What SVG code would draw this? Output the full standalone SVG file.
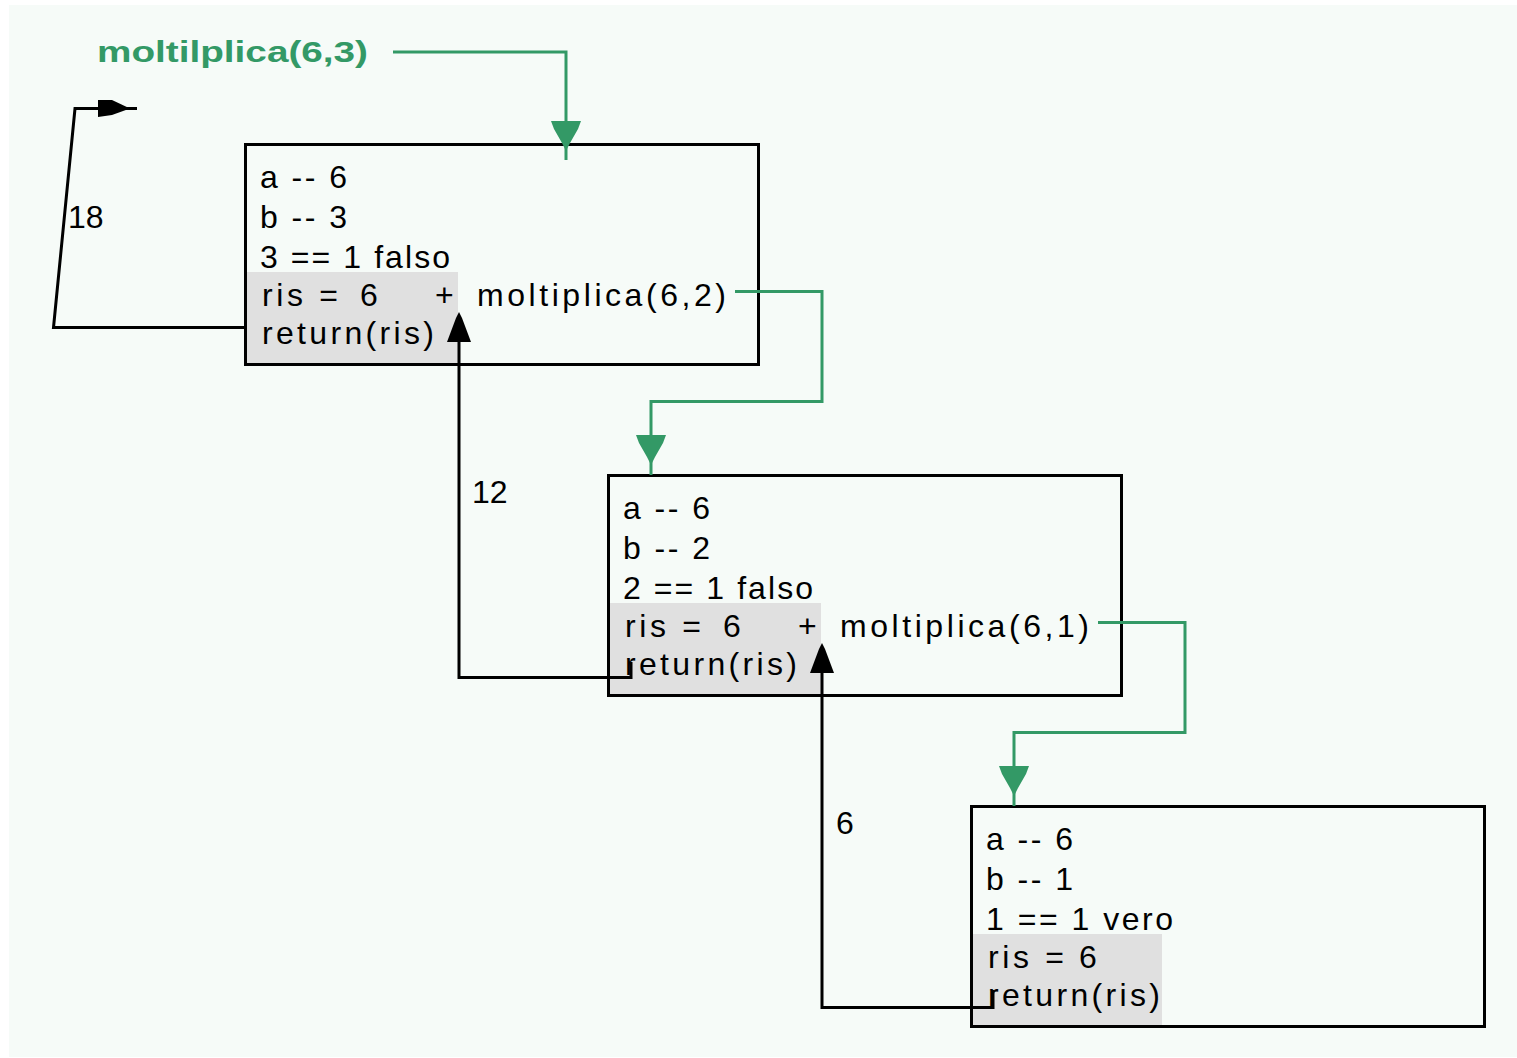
<svg xmlns="http://www.w3.org/2000/svg" xmlns:xlink="http://www.w3.org/1999/xlink" width="1517" height="1058" viewBox="0 0 1517 1058">
<style>
.t{font-family:"Liberation Sans","DejaVu Sans",sans-serif;font-size:32px;fill:#000}
.g{font-family:"Liberation Sans","DejaVu Sans",sans-serif;font-size:30px;font-weight:bold;fill:#339966}
.box{fill:none;stroke:#000;stroke-width:3}
.hl{fill:#e0e0e0}
.gl{fill:none;stroke:#339966;stroke-width:3}
.bl{fill:none;stroke:#000;stroke-width:3}
</style>
<defs>
<polygon id="ga" points="-15,-30 15,-30 12,-22 4,-8 0,0 -4,-8 -12,-22" fill="#339966"/>
<polygon id="ba" points="0,0 3,6 12,30 -12,30 -3,6" fill="#000"/>
</defs>
<rect x="9" y="5" width="1508" height="1052" fill="#f6fbf8"/>
<text class="g" x="97" y="62" textLength="271" lengthAdjust="spacingAndGlyphs">moltilplica(6,3)</text>

<g id="node1">
<rect class="hl" x="247" y="272" width="211" height="91"/>
<rect class="box" x="245.5" y="144.5" width="513" height="220"/>
<text class="t" x="260" y="188" textLength="87">a -- 6</text>
<text class="t" x="260" y="228" textLength="87">b -- 3</text>
<text class="t" x="260" y="268" textLength="190">3 == 1 falso</text>
<text class="t" x="262" y="306" textLength="76">ris =</text>
<text class="t" x="360" y="306">6</text>
<text class="t" x="435" y="306">+</text>
<text class="t" x="477" y="306" textLength="249">moltiplica(6,2)</text>
<text class="t" x="262" y="344" textLength="172">return(ris)</text>
</g>

<g id="node2">
<rect class="hl" x="610" y="603" width="211" height="91"/>
<rect class="box" x="608.5" y="475.5" width="513" height="220"/>
<text class="t" x="623" y="519" textLength="87">a -- 6</text>
<text class="t" x="623" y="559" textLength="87">b -- 2</text>
<text class="t" x="623" y="599" textLength="190">2 == 1 falso</text>
<text class="t" x="625" y="637" textLength="76">ris =</text>
<text class="t" x="723" y="637">6</text>
<text class="t" x="798" y="637">+</text>
<text class="t" x="840" y="637" textLength="249">moltiplica(6,1)</text>
<text class="t" x="625" y="675" textLength="172">return(ris)</text>
</g>

<g id="node3">
<rect class="hl" x="973" y="934" width="189" height="91"/>
<rect class="box" x="971.5" y="806.5" width="513" height="220"/>
<text class="t" x="986" y="850" textLength="87">a -- 6</text>
<text class="t" x="986" y="890" textLength="87">b -- 1</text>
<text class="t" x="986" y="930" textLength="187">1 == 1 vero</text>
<text class="t" x="988" y="968" textLength="76">ris =</text>
<text class="t" x="1079" y="968">6</text>
<text class="t" x="988" y="1006" textLength="172">return(ris)</text>
</g>

<g id="connectors">
<polyline class="gl" points="393,52 566,52 566,160"/>
<use xlink:href="#ga" x="566" y="151"/>
<polyline class="gl" points="735,291.5 822,291.5 822,401.5 651,401.5 651,475"/>
<use xlink:href="#ga" x="651" y="465"/>
<polyline class="gl" points="1098,622.5 1185,622.5 1185,732.5 1014,732.5 1014,806"/>
<use xlink:href="#ga" x="1014" y="796"/>

<polyline class="bl" points="993,990 993,1007.5 822,1007.5 822,660"/>
<use xlink:href="#ba" x="822" y="643"/>
<polyline class="bl" points="631,662 631,677.5 459,677.5 459,330"/>
<use xlink:href="#ba" x="459" y="312"/>
<polyline class="bl" points="245,327.5 53.5,327.5 75,108.5 137,108.5"/>
<polygon points="98,100 112,100 130,108.5 112,115 98,117" fill="#000"/>
<text class="t" x="68" y="228">18</text>
<text class="t" x="472" y="503">12</text>
<text class="t" x="836" y="834">6</text>
</g>
</svg>
